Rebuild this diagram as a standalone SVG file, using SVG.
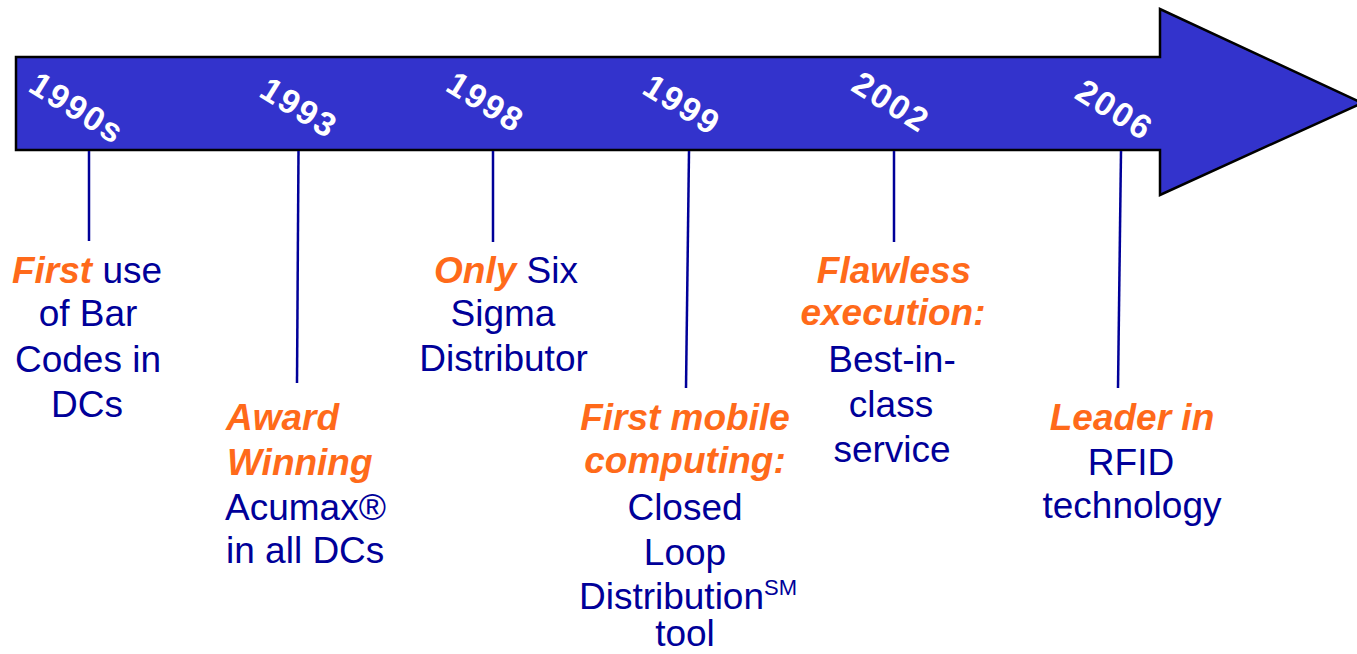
<svg xmlns="http://www.w3.org/2000/svg" width="1357" height="654" viewBox="0 0 1357 654">
<style>
.yr{font-family:"Liberation Sans",Arial,sans-serif;font-size:34px;font-weight:bold;fill:#ffffff;letter-spacing:2px;text-anchor:middle}
.t{font-family:"Liberation Sans",Arial,sans-serif;font-size:37px;fill:#000099}
.o{fill:#FF6A1A;font-weight:bold;font-style:italic}
.c{text-anchor:middle}
.ln{stroke:#000099;stroke-width:2.5;fill:none}
</style>
<rect width="1357" height="654" fill="#ffffff"/>
<g id="arrow">
<polygon points="16,57 1160,57 1160,9 1362,103 1160,195 1160,150 16,150" fill="#3333CC" stroke="#000000" stroke-width="2.5" stroke-linejoin="miter"/>
<text class="yr" transform="translate(71,118) rotate(32)">1990s</text>
<text class="yr" transform="translate(293,117.6) rotate(32)">1993</text>
<text class="yr" transform="translate(479.5,112) rotate(32)">1998</text>
<text class="yr" transform="translate(676,114.6) rotate(32)">1999</text>
<text class="yr" transform="translate(885,112) rotate(32)">2002</text>
<text class="yr" transform="translate(1108.5,119.6) rotate(32)">2006</text>
</g>
<g id="connectors">
<line class="ln" x1="89" y1="151" x2="89" y2="241"/>
<line class="ln" x1="298.5" y1="151" x2="297" y2="383"/>
<line class="ln" x1="493" y1="151" x2="493" y2="242"/>
<line class="ln" x1="689" y1="151" x2="686" y2="388"/>
<line class="ln" x1="894" y1="151" x2="894" y2="242"/>
<line class="ln" x1="1121" y1="151" x2="1118" y2="388"/>
</g>
<g id="n1990s">
<text class="t c" x="87" y="283"><tspan class="o">First</tspan> use</text>
<text class="t c" x="88" y="326">of Bar</text>
<text class="t c" x="88" y="372">Codes in</text>
<text class="t c" x="87" y="417">DCs</text>
</g>
<g id="n1993">
<text class="t" x="226" y="430"><tspan class="o">Award</tspan></text>
<text class="t" x="227" y="475"><tspan class="o">Winning</tspan></text>
<text class="t" x="225" y="520">Acumax®</text>
<text class="t" x="226" y="563">in all DCs</text>
</g>
<g id="n1998">
<text class="t c" x="506" y="283"><tspan class="o">Only</tspan> Six</text>
<text class="t c" x="503" y="326">Sigma</text>
<text class="t c" x="503.5" y="371">Distributor</text>
</g>
<g id="n1999">
<text class="t c" x="685" y="430"><tspan class="o">First mobile</tspan></text>
<text class="t c" x="685" y="473"><tspan class="o">computing:</tspan></text>
<text class="t c" x="685" y="520">Closed</text>
<text class="t c" x="685" y="565">Loop</text>
<text class="t c" x="688" y="609">Distribution<tspan font-size="22" dy="-14">SM</tspan></text>
<text class="t c" x="685" y="646">tool</text>
</g>
<g id="n2002">
<text class="t c" x="894" y="283"><tspan class="o">Flawless</tspan></text>
<text class="t c" x="893" y="325"><tspan class="o">execution:</tspan></text>
<text class="t c" x="892" y="372">Best-in-</text>
<text class="t c" x="891" y="417">class</text>
<text class="t c" x="892" y="462">service</text>
</g>
<g id="n2006">
<text class="t c" x="1132" y="430"><tspan class="o">Leader in</tspan></text>
<text class="t c" x="1131" y="475">RFID</text>
<text class="t c" x="1132" y="518">technology</text>
</g>
</svg>
